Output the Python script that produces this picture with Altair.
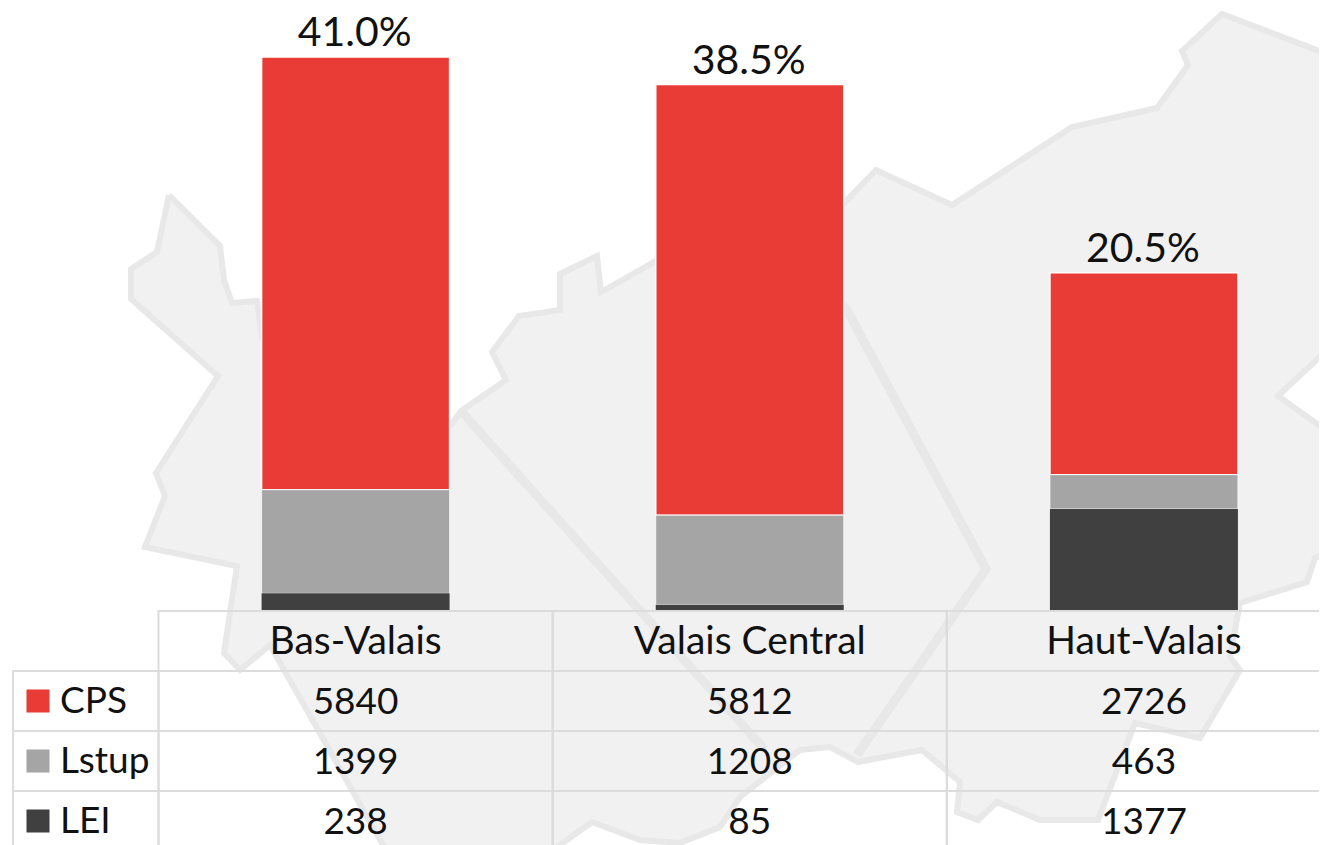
import altair as alt
import pandas as pd

REGIONS = ["Bas-Valais", "Valais Central", "Haut-Valais"]
SERIES = ["CPS", "Lstup", "LEI"]
CPS = [5840, 5812, 2726]
LSTUP = [1399, 1208, 463]
LEI = [238, 85, 1377]
SHARES = ["41.0%", "38.5%", "20.5%"]
COLORS = ["#EA3C36", "#A5A5A5", "#404040"]
ROWS = ["header", "CPS", "Lstup", "LEI"]

# Valais map silhouette behind the chart
MAP_X = [169, 220, 224, 232, 257, 262, 451, 461, 506, 492, 519, 560, 560, 597, 601, 656, 760, 844, 876,
         952, 1072, 1157, 1188, 1182, 1222, 1327, 1345, 1345, 1327, 1278, 1327, 1345, 1345, 1327, 1315, 1307,
         1240, 1230, 1240, 1200, 1135, 1098, 1040, 997, 978, 957, 960, 922, 858, 830, 800, 740, 720, 680,
         640, 592, 560, 530, 400, 383, 270, 240, 224, 237, 145, 165, 156, 218, 131, 131, 157, 169]
MAP_Y = [195, 246, 280, 303, 301, 337, 425, 411, 380, 352, 316, 310, 274, 256, 292, 261, 225, 203, 170,
         205, 127, 108, 65, 51, 14, 54, 58, 340, 350, 396, 431, 440, 548, 552, 558, 582,
         603, 657, 670, 738, 723, 820, 820, 802, 820, 812, 782, 750, 762, 747, 750, 797, 827, 843,
         840, 822, 845, 865, 865, 845, 645, 670, 653, 566, 547, 496, 473, 376, 299, 269, 252, 195]
DIV1_X = [461, 765]
DIV1_Y = [411, 750]
DIV2_X = [800, 847, 986, 857]
DIV2_Y = [260, 310, 569, 755]

FONT = "Lato"
CELL_SIZE = 37
HEADER_SIZE = 39
SHARE_SIZE = 41
NAME_SIZE = 37
GRID = "#DCDCDC"
LINE = "#E8E8E8"

outline = pd.DataFrame({"px": MAP_X, "py": MAP_Y, "i": range(len(MAP_X))})
dividers = pd.DataFrame({
    "px": DIV1_X + DIV2_X,
    "py": DIV1_Y + DIV2_Y,
    "line": ["a"] * len(DIV1_X) + ["b"] * len(DIV2_X),
    "i": list(range(len(DIV1_X))) + list(range(len(DIV2_X))),
})

stack_rows, cell_rows = [], []
for si, (name, vals) in enumerate(zip(SERIES, [CPS, LSTUP, LEI])):
    for region, v in zip(REGIONS, vals):
        stack_rows.append({"region": region, "series": name, "value": v, "rank": 2 - si})
        cell_rows.append({"region": region, "row": name, "label": str(v)})
header_rows = [{"region": region, "row": "header", "label": region} for region in REGIONS]
stacks = pd.DataFrame(stack_rows)
cells = pd.DataFrame(cell_rows)
headers = pd.DataFrame(header_rows)
all_cells = pd.concat([cells, headers])
totals = pd.DataFrame({
    "region": REGIONS,
    "total": [a + b + c for a, b, c in zip(CPS, LSTUP, LEI)],
    "share": SHARES,
})
legend_rows = pd.DataFrame({"row": SERIES})

map_x = alt.X("px:Q", axis=None, scale=alt.Scale(domain=[8, 1319], range=[0, 1311], nice=False, zero=False))
map_y = alt.Y("py:Q", axis=None, scale=alt.Scale(domain=[845, 8], range=[837, 0], nice=False, zero=False))

region_x = alt.X("region:N", axis=None, sort=REGIONS,
                 scale=alt.Scale(domain=REGIONS, range=[150.5, 1333], paddingInner=0, paddingOuter=0))
value_scale = alt.Scale(domain=[-3158, 8138], range=[837, 0], nice=False, zero=False)
row_y = alt.Y("row:N", axis=None, sort=ROWS,
              scale=alt.Scale(domain=ROWS, range=[603, 843], paddingInner=0, paddingOuter=0))
color_scale = alt.Scale(domain=SERIES, range=COLORS)

map_fill = alt.Chart(outline).mark_line(
    fill="#F1F1F1", stroke=LINE, strokeWidth=6, strokeJoin="miter", clip=True
).encode(x=map_x, y=map_y, order="i:Q")

map_div = alt.Chart(dividers).mark_line(
    stroke=LINE, strokeWidth=9, strokeJoin="miter", clip=True
).encode(x=map_x, y=map_y, detail="line:N", order="i:Q")

bars = alt.Chart(stacks).mark_bar(size=188, stroke="white").encode(
    x=region_x,
    y=alt.Y("value:Q", stack="zero", axis=None, scale=value_scale),
    order=alt.Order("rank:Q"),
    fill=alt.Fill("series:N", scale=color_scale, legend=None),
    strokeWidth=alt.StrokeWidth("series:N", scale=alt.Scale(domain=SERIES, range=[1.5, 0, 0]), legend=None),
)

share_text = alt.Chart(totals).mark_text(
    font=FONT, fontSize=SHARE_SIZE, color="#111111", baseline="alphabetic", dy=-11, dx=-1
).encode(x=region_x, y=alt.Y("total:Q", axis=None, scale=value_scale), text="share:N")

grid_cells = alt.Chart(all_cells).mark_rect(fillOpacity=0, stroke=GRID, strokeWidth=2).encode(x=region_x, y=row_y)

label_cells = alt.Chart(legend_rows).mark_rect(fillOpacity=0, stroke=GRID, strokeWidth=2).encode(
    x=alt.value(5), x2=alt.value(150.5), y=row_y
)

swatches = alt.Chart(legend_rows).mark_square(size=530, opacity=1).encode(
    x=alt.value(30), y=row_y, fill=alt.Fill("row:N", scale=color_scale, legend=None)
)

row_names = alt.Chart(legend_rows).mark_text(
    font=FONT, fontSize=NAME_SIZE, color="#111111", align="left", baseline="middle", dy=1, dx=-1
).encode(x=alt.value(53), y=row_y, text="row:N")

cell_text = alt.Chart(cells).mark_text(
    font=FONT, fontSize=CELL_SIZE, color="#111111", baseline="middle", dy=2
).encode(x=region_x, y=row_y, text="label:N")

header_text = alt.Chart(headers).mark_text(
    font=FONT, fontSize=HEADER_SIZE, color="#111111", baseline="middle", dy=1
).encode(x=region_x, y=row_y, text="label:N")

chart = alt.layer(
    map_fill, map_div, bars, share_text, grid_cells, label_cells, swatches, row_names, cell_text, header_text
).resolve_scale(x="independent", y="independent", fill="independent").properties(
    width=1311, height=837, padding=0, autosize="none", background="white"
).configure_view(stroke=None)

chart.save("out.html", embed_options={"renderer": "svg", "actions": False})
